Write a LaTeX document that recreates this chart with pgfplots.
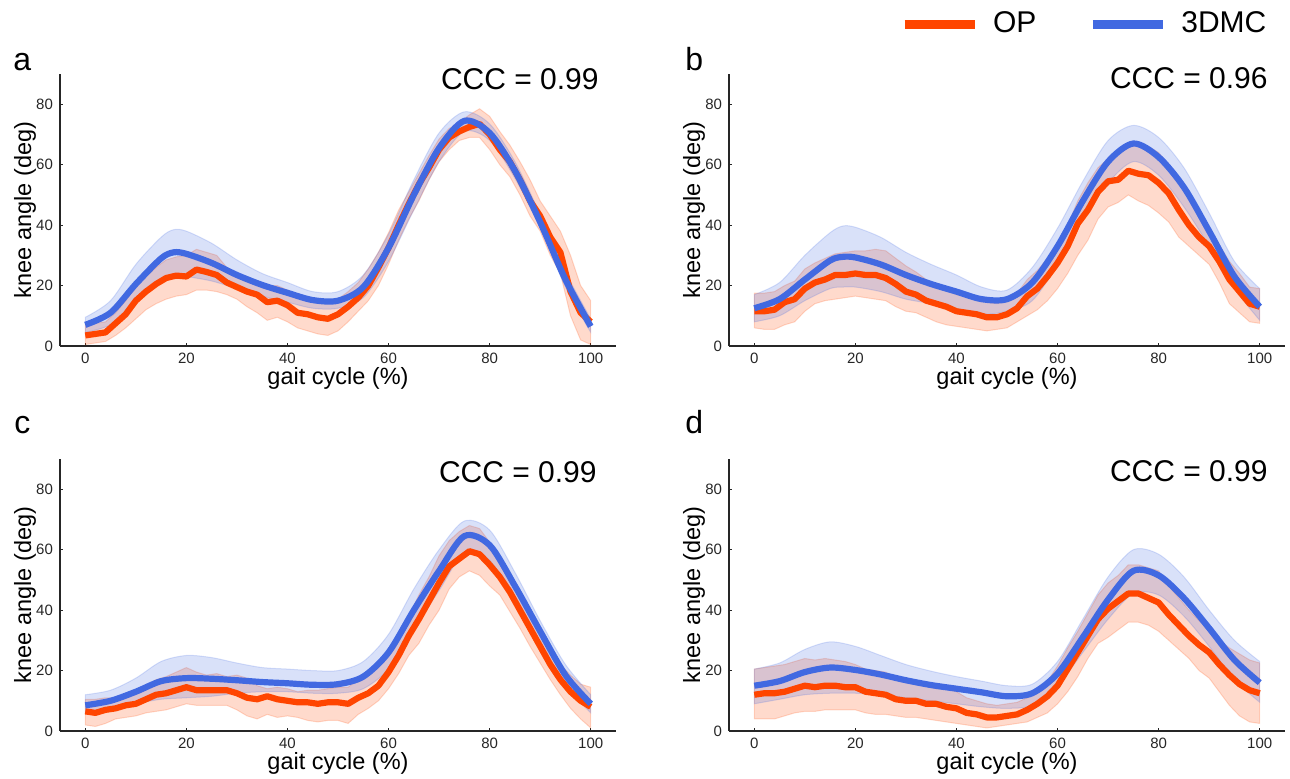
\documentclass[border=0pt]{standalone}
\usepackage{fontspec}
\setmainfont{Liberation Sans}
\usepackage{pgfplots}
\pgfplotsset{compat=1.18}
\usepackage{pgfplotstable}
\usepgfplotslibrary{fillbetween}
\definecolor{opc}{HTML}{FF4500}
\definecolor{dmc}{HTML}{4169E1}

% ---------- panel a ----------
\pgfplotstableread{
x m lo hi
0 3.5 0.5 7
2 4.0 1.0 7.5
4 4.5 1.5 8
6 7.5 3.5 11
8 10.5 6 15
10 15 9 20
12 18 12 23
14 20.5 14 26
16 22.5 15.5 28.5
18 23.3 16.5 29.5
20 23 17 30
22 25.3 18.5 32
24 24.5 18.5 31
26 23.5 18 30
28 21 17 26
30 19.5 15.5 24
32 18 13 23
34 17 11 21.5
36 14.5 8.5 20
38 15 9.5 20
40 13.5 8 18.5
42 11 6 16.5
44 10.5 5 15.5
46 9.5 4 14.5
48 9 3.5 14
50 10.5 5 15.5
52 13 8 18
54 16 11.5 21
56 20 15 25.5
58 26 20 31
60 32.5 27 37.5
62 40 35 45
64 47 42 51
66 53.5 48 57
68 59 55 63
70 65 61 68.5
72 69 65 72
74 71 68 74
76 72.5 69 76.5
78 73.5 69 78.5
80 70 65 76
82 65 60 71
84 61 56 66.5
86 55 50 61
88 48 43 55
90 43 38 48
92 36 30 43
94 31 24 38
96 18 10 30
98 11 2 20
100 8 0.5 15
}\opa
\pgfplotstableread{
x m lo hi
0 7 4.5 9.5
5 11 7 15
10 20.5 14 27
15 29 21.5 36
17.5 31 23.5 38.5
20 30.5 23 38
25 27.5 21.5 34
30 23.5 19 28.5
35 20.2 16.5 24
40 17.6 14.5 21
45 15.2 12.5 18
50 15 12.5 18
55 19.5 16 23.5
60 32.5 28 37
65 50 45 55
70 65.5 61 70.5
75 74.5 71 77.5
80 70.5 68 73.5
85 58 55.5 61
90 41 39 43.5
95 22 19.5 24.5
100 6.5 4.5 9
}\dma

% ---------- panel b ----------
\pgfplotstableread{
x m lo hi
0 11.5 6 17.5
2 11.5 5.5 17.5
4 12 5.5 18
6 14.5 7 20
8 15.5 8 21.5
10 19 11.5 25.5
12 21 14 27.5
14 22 15 29
16 23.5 15.5 30.5
18 23.5 16 31
20 24 16.5 31.5
22 23.5 16 31.5
24 23.5 15.5 32
26 22.5 15 31.5
28 20.5 13 29
30 18 11.5 26.5
32 17 11 24.5
34 15 9.5 22
36 14 8 20
38 13 7 18.5
40 11.5 6.5 17
42 11 6 16.5
44 10.5 5.5 15.5
46 9.5 5 14.5
48 9.5 5.5 14
50 10.5 6 15
52 12.5 8 17.5
54 16.5 10 22
56 19 12 25
58 23 15 29
60 27.5 19 33.5
62 33 24 40
64 40.5 30 48
66 45 35 54
68 51 42 59
70 54.5 46 62
72 55 47.5 64
74 58 50 67
76 57 48 67
78 56.5 46.5 66
80 54 44 64
82 50.5 41 60
84 45 36 55
86 40 33 49
88 36 30 43
90 33 27 38.5
92 28 21 33.5
94 22 14 28
96 18 11 24
98 14 8 19.5
100 13 7.5 19
}\opb
\pgfplotstableread{
x m lo hi
0 12.5 8 17
5 15.5 10 21
10 22 15 30
15 28.3 19 37.5
17.5 29.5 19.5 39.7
20 29.3 19.5 39.3
25 27 18 36
30 23.5 15.5 31
35 20.5 14 27
40 18 12 23.5
45 15.5 10.5 19.5
50 15.5 11.5 18.5
55 21 15 26
60 33 27 39
65 48 42 54.5
70 61 54 68
75 67 61 73
80 62.5 56.5 69
85 52.5 46 59
90 38 33 44
95 23 19 28
100 13 8.5 19
}\dmb

% ---------- panel c ----------
\pgfplotstableread{
x m lo hi
0 6.5 2 10.5
2 6 1.5 10.5
4 7 2.5 11
6 7.5 4 11
8 8.5 4.5 12
10 9 5 13
12 10.5 6 15
14 12 6.5 17
16 12.5 7 18
18 13.5 8 19.5
20 14.5 9 21
22 13.5 8.5 19.5
24 13.5 8.5 18.5
26 13.5 8.5 19
28 13.5 8.5 18
30 12.5 7 18.5
32 11 5 17.5
34 10.5 4 15
36 11.5 5.5 14
38 10.5 4.5 14.5
40 10 5 14
42 9.5 4.5 13
44 9.5 3.5 13.5
46 9 3 13.5
48 9.5 3.5 14
50 9.5 3.5 14.5
52 9 2.5 14.5
54 11 5.5 17
56 12.5 7.5 18.5
58 15 10 21
60 19.5 14 25
62 25 19 31
64 31.5 25 38
66 37 29 45
68 43 35 51
70 49 40 58
72 54.5 47 63
74 57 51 66
76 59.5 53 68
78 58.5 51.5 67
80 55 48 62.5
82 51 45 57
84 46 39.5 52.5
86 40 34 46
88 34 28 40
90 28 22.5 34
92 22 17 28
94 17 12 22
96 13 7.5 18.5
98 10 4 15.5
100 8 1 14.5
}\opc
\pgfplotstableread{
x m lo hi
0 8.5 6 12
5 10 7 13.5
10 13 9 17.5
15 16.5 10.5 23
20 17.5 11 25
25 17.3 11.5 24.3
30 16.8 12.5 22.5
35 16.2 13 21
40 15.8 13 20.5
45 15.3 12.5 20
50 15.5 12.5 20
55 18 14 23
60 26 20.5 32
65 40 33.5 47
70 53 46.5 60
75 64.5 59 69.5
80 61.5 56.5 66.5
85 48 43 52.5
90 33 29 36.5
95 18.5 15 22
100 9 6 12
}\dmc

% ---------- panel d ----------
\pgfplotstableread{
x m lo hi
0 12 4 20.5
2 12.5 4 21
4 12.5 4 21.5
6 13 5 22
8 14 6 23
10 15 6.5 24
12 14.5 6.5 23.5
14 15 7 24
16 15 7 23.5
18 14.5 7 23
20 14.5 7 22
22 13 6 20.5
24 12.5 5.5 20
26 12 5.5 19.5
28 10.5 5 17.5
30 10 4.5 16.5
32 10 4.5 16
34 9 4 15
36 9 3.5 14
38 8 3 14
40 7.5 2.5 13
42 6 2 11
44 5.5 1.5 10
46 4.5 1 9
48 4.5 1.5 8.5
50 5 2 9
52 5.5 2.5 9.5
54 7 3 11
56 9 4.5 13.5
58 11.5 6 16.5
60 15 9 21.5
62 20.5 13 27.5
64 26 18 33
66 31.5 24 39
68 37 29 45
70 40.5 31 49
72 43 33.5 51.5
74 45.5 36 55
76 45.5 36 55
78 44 35 54
80 42.5 33 53
82 38.5 30 48
84 35 27 44
86 31.5 24 40
88 28.5 20 36.5
90 26 17.5 34
92 22 13 30
94 18.5 8.5 27.5
96 15.5 5 25.5
98 13.5 3 23.5
100 12.5 2.5 22.5
}\opd
\pgfplotstableread{
x m lo hi
0 15 9 20.5
5 16.5 10.5 22.5
10 19.5 12 27
15 21 12.5 29.5
20 20.2 12.5 28
25 18.7 12 25
30 16.8 11 22
35 15.2 10 19.8
40 14 9 18
45 12.8 8 16.5
50 11.5 7.5 15
55 12.5 8.5 15.5
60 19 15 23
65 31 26 37
70 43.5 37 51
75 53 45.5 60
80 51.5 45 58.5
85 44 38 51
90 34 28 40
95 23.5 17 30
100 16 9.5 23
}\dmd

\pgfplotsset{
  gait/.style={
    scale only axis, width=278pt, height=136pt,
    xmin=-5, xmax=105, ymin=0, ymax=90,
    axis lines=left,
    axis line style={-, line width=0.65pt, black!85},
    xtick={0,20,...,100}, ytick={0,20,...,80},
    tick align=inside, major tick length=1.6pt,
    tick style={line width=0.6pt, black!85},
    /pgf/number format/assume math mode=true,
    tick label style={font=\fontsize{7.5}{8}\selectfont, text=black!85},
    label style={font=\fontsize{11.75}{13}\selectfont},
    xlabel={gait cycle (\%)}, ylabel={knee angle (deg)},
    xlabel style={at={(axis description cs:0.5,-0.143)}, anchor=base},
    ylabel style={at={(axis description cs:-0.052,0.5)}, anchor=base},
    clip=true,
  },
}

\newcommand{\gaitplots}[3]{%
  \addplot[name path=#1oh, draw=none, forget plot] table[x=x,y=hi]{#2};
  \addplot[name path=#1ol, draw=none, forget plot] table[x=x,y=lo]{#2};
  \addplot[fill=opc, fill opacity=0.2, draw=opc, draw opacity=0.2, line width=0.5pt, forget plot] fill between[of=#1oh and #1ol];
  \addplot[name path=#1dh, draw=none, smooth, forget plot] table[x=x,y=hi]{#3};
  \addplot[name path=#1dl, draw=none, smooth, forget plot] table[x=x,y=lo]{#3};
  \addplot[fill=dmc, fill opacity=0.2, draw=dmc, draw opacity=0.2, line width=0.5pt, forget plot] fill between[of=#1dh and #1dl];
  \addplot[opc, line width=3.1pt, line join=round, forget plot] table[x=x,y=m]{#2};
  \addplot[dmc, line width=3.1pt, smooth, forget plot] table[x=x,y=m]{#3};
}

\begin{document}
\begin{tikzpicture}

\begin{axis}[gait, at={(30pt,-173pt)}, anchor=south west]
\gaitplots{pa}{\opa}{\dma}
\end{axis}

\begin{axis}[gait, at={(364.5pt,-173pt)}, anchor=south west,
  legend style={at={(rel axis cs:0.3076,1.1838)}, anchor=west, draw=none, fill=none,
    inner sep=0pt, outer sep=0pt, legend columns=2,
    font=\fontsize{15}{18}\selectfont, nodes={inner sep=0pt},
    /tikz/every odd column/.append style={column sep=7pt},
    /tikz/every even column/.append style={column sep=26pt}},
  legend image code/.code={\draw[#1, line width=4.5pt] (0pt,0pt) -- (35pt,0pt);}]
\gaitplots{pb}{\opb}{\dmb}
\addlegendimage{opc}\addlegendentry{OP}
\addlegendimage{dmc}\addlegendentry{3DMC}
\end{axis}

\begin{axis}[gait, at={(30pt,-365.5pt)}, anchor=south west]
\gaitplots{pc}{\opc}{\dmc}
\end{axis}

\begin{axis}[gait, at={(364.5pt,-365.5pt)}, anchor=south west]
\gaitplots{pd}{\opd}{\dmd}
\end{axis}

\begin{scope}[every node/.style={inner sep=0pt}]
\node[anchor=base west, font=\fontsize{16}{18}\selectfont] at (6.5pt,-35pt) {a};
\node[anchor=base west, font=\fontsize{16}{18}\selectfont] at (342.5pt,-35pt) {b};
\node[anchor=base west, font=\fontsize{16}{18}\selectfont] at (7pt,-216.5pt) {c};
\node[anchor=base west, font=\fontsize{16}{18}\selectfont] at (342.5pt,-216.5pt) {d};
\node[anchor=base east, font=\fontsize{15}{18}\selectfont] at (299.5pt,-44.5pt) {CCC = 0.99};
\node[anchor=base east, font=\fontsize{15}{18}\selectfont] at (634pt,-44pt) {CCC = 0.96};
\node[anchor=base east, font=\fontsize{15}{18}\selectfont] at (298.5pt,-241pt) {CCC = 0.99};
\node[anchor=base east, font=\fontsize{15}{18}\selectfont] at (634pt,-240.5pt) {CCC = 0.99};
\end{scope}

\pgfresetboundingbox
\path[use as bounding box] (0,0) rectangle (645pt,-389pt);
\end{tikzpicture}
\end{document}
